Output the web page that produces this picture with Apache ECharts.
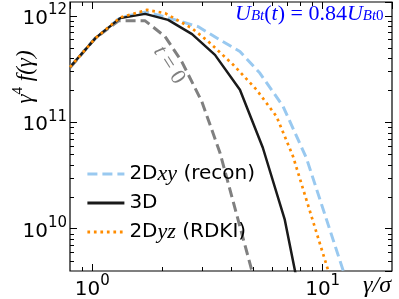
<!DOCTYPE html>
<html><head><meta charset="utf-8">
<script src="https://cdn.jsdelivr.net/npm/echarts@6/dist/echarts.min.js"></script>
<style>html,body{margin:0;padding:0;background:#fff}#c{width:399px;height:299px}</style>
</head><body><div id="c"></div>
<script>
// ---- data ----
const gammaXY = [0.8, 1.030, 1.322, 1.713, 2.070, 2.876, 3.582, 4.373, 5.337, 6.732, 8.50, 12.24, 13.35];
const fXY     = [3.3e11, 6.15e11, 9.6e11, 1.09e12, 9.8e11, 7.93e11, 5.95e11, 4.62e11, 2.90e11, 1.41e11, 4.61e10, 4.12e9, 2.16e9];
const gamma3D = [0.8, 1.030, 1.322, 1.696, 2.133, 2.710, 3.408, 4.373, 5.499, 6.847, 7.641];
const f3D     = [3.3e11, 6.15e11, 9.52e11, 1.044e12, 9.17e11, 6.73e11, 4.30e11, 2.02e11, 5.76e10, 1.215e10, 3.70e9];
const gammaYZ = [0.8, 1.030, 1.322, 1.725, 2.070, 2.702, 3.189, 4.090, 5.164, 6.304, 7.437, 10.54, 11.38];
const fYZ     = [3.3e11, 6.15e11, 9.68e11, 1.138e12, 1.060e12, 7.66e11, 5.74e11, 3.467e11, 2.02e11, 1.134e11, 4.77e10, 4.12e9, 2.16e9];
const gammaT0 = [0.8, 1.030, 1.300, 1.696, 2.070, 2.445, 2.986, 3.582, 4.914, 5.233];
const fT0     = [3.25e11, 6.17e11, 8.98e11, 8.98e11, 6.39e11, 3.72e11, 1.57e11, 5.17e10, 4.12e9, 2.40e9];

const seriesNames = ['2Dxy (recon)', '3D', '2Dyz (RDKI)'];
const X_MIN = 0.8, X_MAX = 20;
const Y_MIN = 4e9, Y_MAX = 1.35e12;
const xMinorTicks = [0.9, 2, 3, 4, 5, 6, 7, 8, 9];
const yMinorTicks = [5e9, 6e9, 7e9, 8e9, 9e9,
  2e10, 3e10, 4e10, 5e10, 6e10, 7e10, 8e10, 9e10,
  2e11, 3e11, 4e11, 5e11, 6e11, 7e11, 8e11, 9e11];

const zip = (a, b) => a.map((v, i) => [v, b[i]]);

const SERIF = "'Liberation Serif', 'DejaVu Serif', serif";
const SANS = "'DejaVu Sans', sans-serif";

function powLabel(v) {
  const e = Math.log10(v);
  if (Math.abs(e - Math.round(e)) > 1e-6) return '';
  return '{b|10}{s|' + Math.round(e) + '}';
}
const tickRich = {
  b: { fontSize: 20, fontFamily: SANS, color: '#000', lineHeight: 26, verticalAlign: 'bottom' },
  s: { fontSize: 15, fontFamily: SANS, color: '#000', lineHeight: 15, verticalAlign: 'top' }
};

const legendRich = {
  '2Dxy (recon)': '{a|2D}{m|xy}{a| (recon)}',
  '3D': '{a|3D}',
  '2Dyz (RDKI)': '{a|2D}{m|yz}{a| (RDKI)}'
};

function renderMinor(params, api) {
  const cs = params.coordSys;
  const kind = api.value(2);
  const L = 4;
  const style = { stroke: '#000', lineWidth: 1 };
  if (kind === 0) {
    const x = Math.round(api.coord([api.value(0), Y_MIN])[0]) + 0.5;
    const yb = cs.y + cs.height, yt = cs.y;
    return { type: 'group', children: [
      { type: 'line', shape: { x1: x, y1: yb, x2: x, y2: yb - L }, style },
      { type: 'line', shape: { x1: x, y1: yt, x2: x, y2: yt + L }, style }
    ] };
  } else {
    const y = Math.round(api.coord([X_MIN, api.value(1)])[1]) + 0.5;
    const xl = cs.x, xr = cs.x + cs.width;
    return { type: 'group', children: [
      { type: 'line', shape: { x1: xl, y1: y, x2: xl + L, y2: y }, style },
      { type: 'line', shape: { x1: xr, y1: y, x2: xr - L, y2: y }, style }
    ] };
  }
}

const majorTick = { show: true, inside: true, length: 7, lineStyle: { color: '#000', width: 1 } };

const chart = echarts.init(document.getElementById('c'), null, { renderer: 'canvas' });
chart.setOption({
  animation: false,
  backgroundColor: '#fff',
  grid: { left: 70, right: 7, top: 2, bottom: 28, show: true, borderColor: '#000', borderWidth: 1.2,
          containLabel: false, outerBoundsMode: 'none' },
  xAxis: [
    { type: 'log', logBase: 10, min: X_MIN, max: X_MAX, position: 'bottom',
      axisLine: { show: false }, axisTick: majorTick, splitLine: { show: false },
      axisLabel: { formatter: powLabel, rich: tickRich, margin: 3, showMinLabel: false, showMaxLabel: false } },
    { type: 'log', logBase: 10, min: X_MIN, max: X_MAX, position: 'top',
      axisLine: { show: false }, axisTick: majorTick, splitLine: { show: false }, axisLabel: { show: false } }
  ],
  yAxis: [
    { type: 'log', logBase: 10, min: Y_MIN, max: Y_MAX, position: 'left',
      axisLine: { show: false }, axisTick: majorTick, splitLine: { show: false },
      axisLabel: { formatter: powLabel, rich: tickRich, margin: 3, showMinLabel: false, showMaxLabel: false } },
    { type: 'log', logBase: 10, min: Y_MIN, max: Y_MAX, position: 'right',
      axisLine: { show: false }, axisTick: majorTick, splitLine: { show: false }, axisLabel: { show: false } }
  ],
  legend: {
    data: seriesNames, orient: 'vertical', left: 86, top: 163, padding: 0,
    itemStyle: { opacity: 0 },
    lineStyle: { width: 2.8 },
    itemWidth: 37, itemHeight: 14, itemGap: 8,
    formatter: n => legendRich[n],
    textStyle: { color: '#000', rich: {
      a: { fontSize: 20, fontFamily: SANS, color: '#000' },
      m: { fontSize: 22, fontFamily: SERIF, fontStyle: 'italic', color: '#000' }
    } }
  },
  series: [
    { name: 't=0', type: 'line', data: zip(gammaT0, fT0), symbol: 'none', clip: true, z: 2,
      lineStyle: { color: '#808080', width: 3, type: [10, 5] } },
    { name: seriesNames[0], type: 'line', data: zip(gammaXY, fXY), symbol: 'none', clip: true, z: 3,
      color: '#99c9f0', lineStyle: { color: '#99c9f0', width: 3, type: [10, 5] } },
    { name: seriesNames[1], type: 'line', data: zip(gamma3D, f3D), symbol: 'none', clip: true, z: 4,
      color: '#1a1a1a', lineStyle: { color: '#1a1a1a', width: 2.5 } },
    { name: seriesNames[2], type: 'line', data: zip(gammaYZ, fYZ), symbol: 'none', clip: true, z: 5,
      color: '#ff8c00', lineStyle: { color: '#ff8c00', width: 2.7, type: [2.7, 3.8], cap: 'butt' } },
    { name: 'minorTicks', type: 'custom', renderItem: renderMinor, clip: false, silent: true, z: 10,
      encode: { x: 0, y: 1 },
      data: xMinorTicks.map(v => [v, Y_MIN, 0]).concat(yMinorTicks.map(v => [X_MIN, v, 1])) }
  ],
  graphic: [
    { type: 'text', left: 235, top: 3, silent: true, z: 100,
      style: { text: '{i|U}{s|Bt}{r|(}{i|t}{r|) = 0.84}{i|U}{s|Bt}{u|0}', fill: '#0000ff',
        rich: {
          i: { fontSize: 22, fontFamily: SERIF, fontStyle: 'italic', fill: '#0000ff', lineHeight: 21, verticalAlign: 'top' },
          r: { fontSize: 22, fontFamily: SERIF, fill: '#0000ff', lineHeight: 21, verticalAlign: 'top' },
          s: { fontSize: 15, fontFamily: SERIF, fontStyle: 'italic', fill: '#0000ff', lineHeight: 15, verticalAlign: 'bottom' },
          u: { fontSize: 15, fontFamily: SERIF, fill: '#0000ff', lineHeight: 15, verticalAlign: 'bottom' }
        } } },
    { type: 'text', x: 24, y: 77, rotation: Math.PI / 2, silent: true,
      style: { text: '{g|γ}{s|4}{g| f(γ)}', align: 'center', verticalAlign: 'middle', fill: '#000',
        rich: {
          g: { fontSize: 23, fontFamily: SERIF, fontStyle: 'italic', fill: '#000', lineHeight: 26, verticalAlign: 'bottom' },
          s: { fontSize: 15, fontFamily: SERIF, fill: '#000', lineHeight: 15, verticalAlign: 'top' }
        } } },
    { type: 'text', x: 377, y: 286, silent: true,
      style: { text: 'γ/σ', align: 'center', verticalAlign: 'middle', fill: '#000',
        font: "italic 24px 'Liberation Serif', 'DejaVu Serif', serif" } },
    { type: 'text', x: 169, y: 65, rotation: -1.0, silent: true,
      style: { text: '{i|t}{r| = 0}', align: 'center', verticalAlign: 'middle', fill: '#808080',
        rich: {
          i: { fontSize: 22, fontFamily: SERIF, fontStyle: 'italic', fill: '#808080' },
          r: { fontSize: 22, fontFamily: SERIF, fill: '#808080' }
        } } }
  ]
});
</script>
</body></html>
